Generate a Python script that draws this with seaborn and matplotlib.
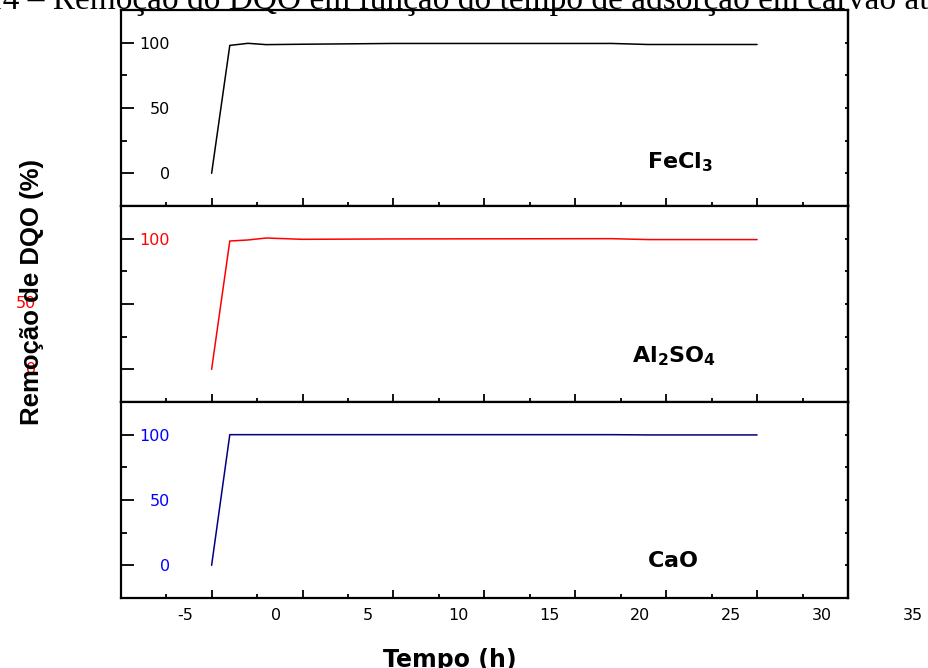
import matplotlib
matplotlib.use("Agg")
import matplotlib.pyplot as plt
import matplotlib.font_manager as fm
from matplotlib.ticker import MultipleLocator, FixedLocator
from matplotlib.transforms import blended_transform_factory
import seaborn as sns
import pandas as pd

# ---------------- data ----------------
tempo = [0, 1, 2, 3, 5, 10, 22, 24, 30]
fecl3 = [0, 97.9, 99.5, 98.5, 98.8, 99.4, 99.4, 98.6, 98.6]
al2so4 = [0, 98.2, 99.0, 100.5, 99.5, 99.8, 100.0, 99.3, 99.3]
cao = [0, 100.0, 100.0, 100.0, 100.0, 100.0, 100.0, 99.8, 99.8]

series_names = [r"$\mathbf{FeCl}_\mathbf{3}$", r"$\mathbf{Al}_\mathbf{2}\mathbf{SO}_\mathbf{4}$", r"$\mathbf{CaO}$"]
line_colors = ["#000000", "#ff0000", "#000080"]
label_colors = ["#000000", "#ff0000", "#0000ff"]
xtick_labels = ["-5", "0", "5", "10", "15", "20", "25", "30", "35"]
ytick_values = [0, 50, 100]
title_text = "4.14 – Remoção do DQO em função do tempo de adsorção em carvão ativado"
ylabel_text = "Remoção de DQO (%)"
xlabel_text = "Tempo (h)"

sns.set_style("ticks")
plt.rcParams["font.family"] = ["DejaVu Sans"]
plt.rcParams["text.color"] = "black"
plt.rcParams["axes.labelcolor"] = "black"

W, H = 929, 668
fig = plt.figure(figsize=(W / 100, H / 100), dpi=100)

left = 120.7 / W
width = (848 - 120.7) / W
panel_h = 196 / H
bottoms = [1 - 206 / H, 1 - 402 / H, 1 - 598 / H]

all_series = [fecl3, al2so4, cao]
name_pos = [(0.724, 0.194), (0.703, 0.204), (0.724, 0.158)]

axes = []
for i in range(3):
    ax = fig.add_axes([left, bottoms[i], width, panel_h])
    df = pd.DataFrame({"t": tempo, "v": all_series[i]})
    sns.lineplot(data=df, x="t", y="v", ax=ax, color=line_colors[i], linewidth=1.1,
                 estimator=None, sort=False)
    ax.set_xlim(-5, 35)
    ax.set_ylim(-25, 125)
    ax.set_xlabel("")
    ax.set_ylabel("")
    for s in ax.spines.values():
        s.set_visible(True)
        s.set_linewidth(1.6)
        s.set_color("black")
    ax.xaxis.set_major_locator(FixedLocator(list(range(0, 36, 5))))
    ax.xaxis.set_minor_locator(MultipleLocator(2.5))
    ax.tick_params(axis="x", which="major", direction="in", length=5.5, width=1.3,
                   bottom=True, top=False, labelbottom=False, color="black")
    ax.tick_params(axis="x", which="minor", direction="in", length=2.8, width=1.3,
                   bottom=True, top=False, color="black")
    ax.yaxis.set_minor_locator(MultipleLocator(25))
    if i == 1:
        ax.set_yticks(ytick_values, ["", "", "100"])
    else:
        ax.set_yticks(ytick_values, [str(v) for v in ytick_values])
    ax.tick_params(axis="y", which="major", direction="in", length=9.4, width=1.3,
                   pad=-35.5, labelsize=11.5, labelcolor=label_colors[i], left=True,
                   right=False, color="black")
    ax.tick_params(axis="y", which="minor", direction="in", length=4.3, width=1.3,
                   left=True, right=False, color="black")
    sec = ax.secondary_yaxis("right")
    sec.yaxis.set_major_locator(MultipleLocator(25))
    sec.tick_params(direction="in", length=2.5, width=1.3, labelright=False, color="black")
    sec.spines["right"].set_linewidth(1.6)
    sec.spines["right"].set_color("black")
    ax.text(name_pos[i][0], name_pos[i][1], series_names[i], transform=ax.transAxes,
            fontsize=16, ha="left", va="baseline", color="black")
    axes.append(ax)

# misplaced red tick labels of the middle panel (as in the original)
trans_mid = axes[1].get_yaxis_transform()
for v in [50, 0]:
    axes[1].text((36 - 120.7) / (848 - 120.7), v, str(v), transform=trans_mid,
                 ha="right", va="center", fontsize=11.5, color=label_colors[1],
                 clip_on=False, zorder=1)

# x tick labels (shifted relative to the tick marks, as in the original)
bax = axes[2]
btrans = blended_transform_factory(bax.transData, bax.transAxes)
label_shift = 5 - 26 / 18.2
for k, lab in enumerate(xtick_labels):
    bax.text(k * 5 - 5 + label_shift, -17 / 196, lab, transform=btrans, ha="center",
             va="center", fontsize=11.5, color="black", clip_on=False)

# y label
names = {f.name for f in fm.fontManager.ttflist}
if "Liberation Sans Narrow" in names:
    fig.text(32 / W, 1 - 292 / H, ylabel_text, rotation=90, ha="center", va="center",
             fontweight="bold", fontsize=22, family="Liberation Sans Narrow", color="black")
else:
    fig.text(32 / W, 1 - 292 / H, ylabel_text, rotation=90, ha="center", va="center",
             fontweight="bold", fontsize=18.5, family="Liberation Sans", color="black")

# x label
fig.text(450 / W, 1 - 667 / H, xlabel_text, ha="center", va="baseline",
         fontweight="bold", fontsize=17, color="black")

# caption (cut off at the top in the original)
fig.text(-39 / W, 1 - 9.5 / H, title_text, ha="left", va="baseline",
         family="Liberation Serif", fontsize=24, color="black")

fig.savefig("out.png", dpi=100)
